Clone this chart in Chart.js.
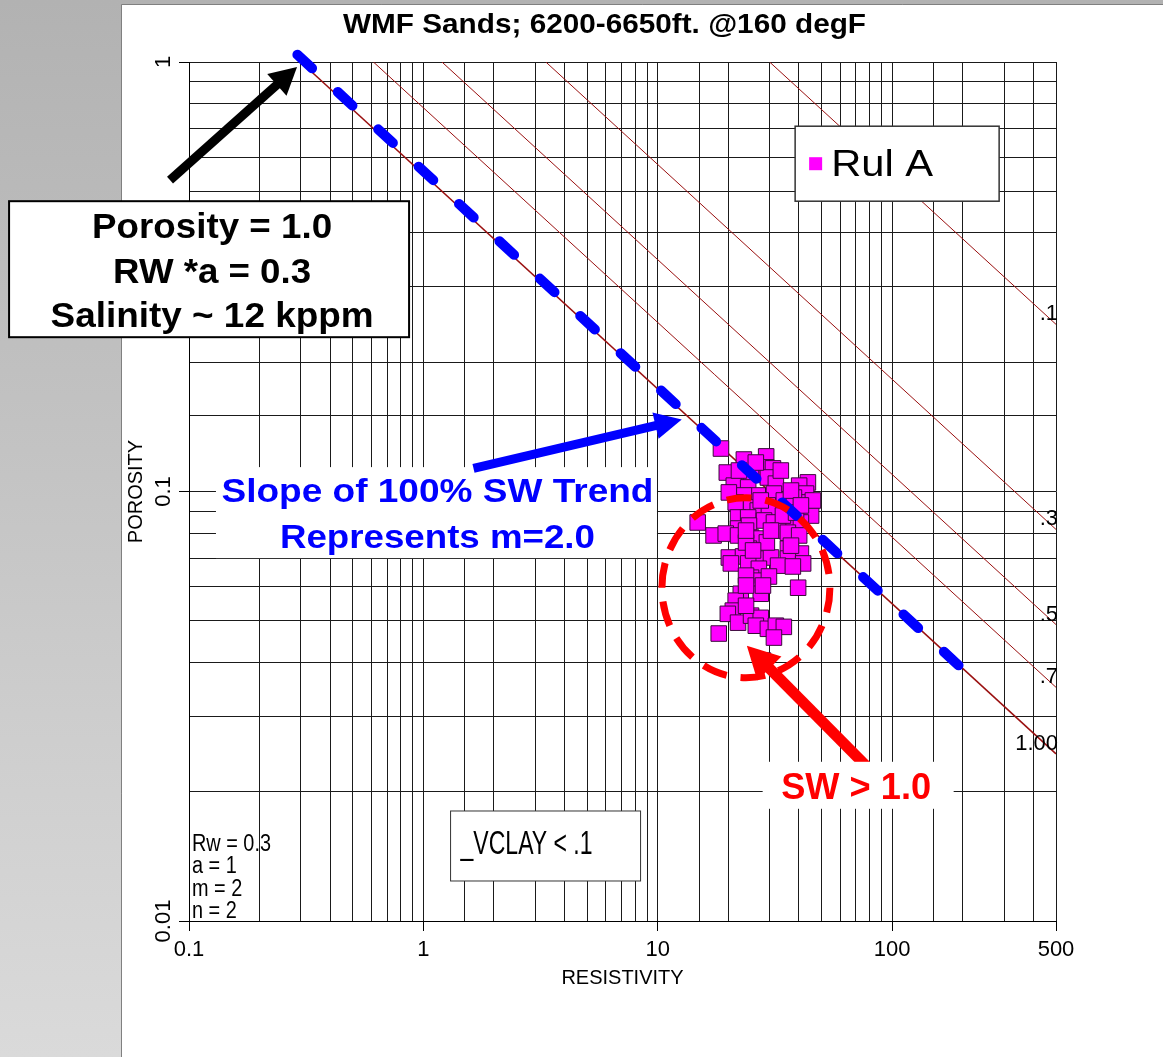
<!DOCTYPE html>
<html>
<head>
<meta charset="utf-8">
<script src="https://cdn.jsdelivr.net/npm/chart.js@4.4.0/dist/chart.umd.min.js"></script>
<style>
html,body{margin:0;padding:0;background:#fff;overflow:hidden}
canvas{display:block}
</style>
</head>
<body>
<canvas id="c" width="1163" height="1057"></canvas>
<script>
// ---------- chart text ----------
const chartTitle = 'WMF Sands; 6200-6650ft. @160 degF';
const xAxisTitle = 'RESISTIVITY';
const yAxisTitle = 'POROSITY';
const seriesName = 'Rul A';

// ---------- axis ticks ----------
const xMin = 0.1, xMax = 500;
const yMin = 0.01, yMax = 1;
const xTickValues = [0.1, 1, 10, 100, 500];
const xTickLabels = ['0.1', '1', '10', '100', '500'];
const yTickValues = [0.01, 0.1, 1];
const yTickLabels = ['0.01', '0.1', '1'];

// ---------- scatter data ----------
const resistivity = [
  18.6, 23.3, 29.0, 29.0, 31.0, 19.7, 23.3, 25.0, 29.5, 31.9,
  43.7, 40.1, 21.1, 24.3, 31.3, 42.9, 26.7, 23.3, 21.5, 41.7,
  25.0, 29.5, 36.3, 26.7, 29.8, 45.1, 14.8, 22.0, 24.3, 28.4,
  31.3, 36.3, 40.8, 22.0, 24.5, 17.3, 19.5, 22.0, 25.0, 26.7,
  32.6, 35.9, 40.1, 24.5, 35.9, 40.8, 20.1, 23.1, 26.7, 30.4,
  35.9, 20.5, 24.3, 27.0, 32.6, 41.7, 25.0, 26.2, 39.7, 22.6,
  27.5, 21.5, 20.9, 19.9, 22.0, 25.0, 27.5, 26.2, 29.5, 31.9,
  34.5, 31.3, 18.2, 28.1, 27.5, 34.5, 38.1, 34.2, 38.9, 23.8,
  29.2, 25.5, 37.7, 29.8, 23.8, 23.8, 26.2, 33.5, 37.0, 45.9,
  23.8, 30.4, 37.0, 28.1, 23.8, 40.8, 22.2, 20.1
];
const porosity = [
  0.1259, 0.1187, 0.1207, 0.1138, 0.1132, 0.1107, 0.1078, 0.1101, 0.1078, 0.1043,
  0.1050, 0.1032, 0.1032, 0.1022, 0.0989, 0.0989, 0.0979, 0.0979, 0.0943, 0.0943,
  0.0918, 0.0928, 0.0913, 0.0903, 0.0903, 0.0879, 0.0847, 0.0870, 0.0870, 0.0856,
  0.0847, 0.0856, 0.0847, 0.0820, 0.0833, 0.0790, 0.0798, 0.0790, 0.0781, 0.0777,
  0.0811, 0.0802, 0.0790, 0.0736, 0.0736, 0.0717, 0.0702, 0.0706, 0.0698, 0.0702,
  0.0698, 0.0680, 0.0680, 0.0661, 0.0672, 0.0680, 0.0630, 0.0620, 0.0597, 0.0578,
  0.0578, 0.0557, 0.0528, 0.0519, 0.0495, 0.0514, 0.0508, 0.0487, 0.0479, 0.0487,
  0.0484, 0.0457, 0.0467, 0.0404, 0.0953, 0.0953, 0.0968, 0.0879, 0.0893, 0.0761,
  0.0761, 0.0729, 0.0669, 0.0634, 0.0542, 0.0637, 0.1168, 0.1119, 0.1005, 0.0953,
  0.0811, 0.0811, 0.0748, 0.0604, 0.0604, 0.0928, 0.1119, 0.0995
];

// ---------- water saturation lines (start at porosity 1, end at resistivity 500) ----------
const swLabels = ['.1', '.3', '.5', '.7', '1.00'];
const swStartResistivity = [30, 3.33, 1.2, 0.612, 0.3];
const swEndPorosity = [0.245, 0.0816, 0.049, 0.035, 0.0245];

// ---------- 100% SW trend (blue dashed) ----------
const trendResistivity = [0.29, 215];
const trendPorosity = [1.04, 0.0372];

// ---------- annotation text ----------
const paramLines = ['Rw = 0.3', 'a = 1', 'm = 2', 'n = 2'];
const filterText = '_VCLAY < .1';
const noteLines = ['Porosity = 1.0', 'RW *a = 0.3', 'Salinity ~ 12 kppm'];
const slopeLines = ['Slope of 100% SW Trend', 'Represents m=2.0'];
const swNote = 'SW > 1.0';

// ---------- styles / layout ----------
const SANS = "'Liberation Sans', Arial, Helvetica, sans-serif";
const SW_COLOR = '#9a1010';
const MAGENTA = '#ff00ff';

// annotation anchors expressed in data coordinates [resistivity, porosity]
const ann = {
  blackArrow: { from: [0.083, 0.531], to: [0.289, 0.974] },
  noteBox: { at: [0.1218, 0.3293], w: 400, h: 136 },
  blueArrow: { from: [1.636, 0.1132], to: [12.66, 0.1472] },
  slopeBox: { at: [1.137, 0.0893], w: 441, h: 91 },
  ellipse: { at: [23.77, 0.0597], rx: 84, ry: 90 },
  redArrow: { from: [79.7, 0.0226], to: [23.99, 0.04375] },
  swBox: { at: [71.6, 0.0207], w: 191, h: 47 },
  vclayBox: { at: [3.321, 0.01495], w: 190, h: 70 },
  params: { at: [0.103, 0.01456] },
  legend: { at: [105.0, 0.5797], w: 204, h: 75 }
};

function near(v, arr) {
  for (let i = 0; i < arr.length; i++) if (Math.abs(v - arr[i]) / arr[i] < 1e-6) return i;
  return -1;
}

function fitText(ctx, text, x, y, font, color, width, align) {
  ctx.save();
  ctx.font = font;
  ctx.fillStyle = color;
  ctx.textBaseline = 'alphabetic';
  ctx.textAlign = align || 'center';
  const w = ctx.measureText(text).width;
  const sx = width ? width / w : 1;
  ctx.translate(x, y);
  ctx.scale(sx, 1);
  ctx.fillText(text, 0, 0);
  ctx.restore();
}

function arrow(ctx, a, b, color, lw, headLen, headW) {
  const [x1, y1] = a, [x2, y2] = b;
  const ang = Math.atan2(y2 - y1, x2 - x1);
  const bx = x2 - headLen * Math.cos(ang), by = y2 - headLen * Math.sin(ang);
  ctx.save();
  ctx.strokeStyle = color; ctx.fillStyle = color; ctx.lineWidth = lw; ctx.lineCap = 'butt';
  ctx.beginPath(); ctx.moveTo(x1, y1); ctx.lineTo(bx + Math.cos(ang), by + Math.sin(ang)); ctx.stroke();
  ctx.beginPath();
  ctx.moveTo(x2, y2);
  ctx.lineTo(bx + headW / 2 * Math.sin(ang), by - headW / 2 * Math.cos(ang));
  ctx.lineTo(bx - headW / 2 * Math.sin(ang), by + headW / 2 * Math.cos(ang));
  ctx.closePath(); ctx.fill();
  ctx.restore();
}

function box(ctx, cx, cy, w, h, border, lw) {
  ctx.save();
  ctx.fillStyle = '#fff';
  ctx.fillRect(cx - w / 2, cy - h / 2, w, h);
  if (border) {
    ctx.strokeStyle = border; ctx.lineWidth = lw;
    ctx.strokeRect(cx - w / 2, cy - h / 2, w, h);
  }
  ctx.restore();
}

const backgroundPlugin = {
  id: 'bg',
  beforeDraw(chart) {
    const ctx = chart.ctx, W = chart.width, H = chart.height;
    ctx.save();
    const g = ctx.createLinearGradient(0, 0, 0, H);
    g.addColorStop(0, '#b2b2b2');
    g.addColorStop(1, '#dadada');
    ctx.fillStyle = g;
    ctx.fillRect(0, 0, W, H);
    ctx.fillStyle = '#fff';
    ctx.fillRect(122, 5, W - 122, H - 5);
    ctx.strokeStyle = '#808080'; ctx.lineWidth = 1;
    ctx.beginPath(); ctx.moveTo(121.5, H); ctx.lineTo(121.5, 4.5); ctx.lineTo(W, 4.5); ctx.stroke();
    ctx.restore();
  }
};

const annotationPlugin = {
  id: 'annotations',
  afterDraw(chart) {
    const ctx = chart.ctx;
    const xs = chart.scales.x, ys = chart.scales.y;
    const P = (d) => [xs.getPixelForValue(d[0]), ys.getPixelForValue(d[1])];
    const area = chart.chartArea;

    // title
    fitText(ctx, chartTitle, (area.left + area.right) / 2 - 18, 33, `bold 28px ${SANS}`, '#000', 523);

    // SW line labels at right edge
    swLabels.forEach((t, i) => {
      const y = ys.getPixelForValue(swEndPorosity[i]) - 4;
      fitText(ctx, t, area.right + 2, y, `22px ${SANS}`, '#000', null, 'right');
    });

    // parameters block
    const [px0, py0] = P(ann.params.at);
    ctx.save(); ctx.font = `23px ${SANS}`;
    const pScale = 79 / ctx.measureText(paramLines[0]).width;
    ctx.restore();
    paramLines.forEach((t, i) => {
      ctx.save(); ctx.font = `23px ${SANS}`;
      const w = ctx.measureText(t).width * pScale;
      ctx.restore();
      fitText(ctx, t, px0, py0 + i * 22.4, `23px ${SANS}`, '#000', w, 'left');
    });

    // VCLAY box
    const [vx, vy] = P(ann.vclayBox.at);
    box(ctx, vx, vy, ann.vclayBox.w, ann.vclayBox.h, '#333', 1);
    fitText(ctx, filterText, vx - ann.vclayBox.w / 2 + 10, vy + 8, `34px ${SANS}`, '#000', 132, 'left');

    // legend
    const [lx, ly] = P(ann.legend.at);
    const lw = ann.legend.w, lh = ann.legend.h;
    box(ctx, lx, ly, lw, lh, '#333', 1.5);
    const ds = chart.data.datasets[0];
    ctx.save(); ctx.fillStyle = ds.backgroundColor;
    ctx.fillRect(lx - lw / 2 + 14, ly - lh / 2 + 31, 13, 13);
    ctx.restore();
    fitText(ctx, ds.label, lx - lw / 2 + 36, ly - lh / 2 + 50, `37px ${SANS}`, '#000', 102, 'left');

    // black arrow + note box
    arrow(ctx, P(ann.blackArrow.from), P(ann.blackArrow.to), '#000', 9, 27, 29);
    const [nx, ny] = P(ann.noteBox.at);
    box(ctx, nx, ny, ann.noteBox.w, ann.noteBox.h, '#000', 2);
    const noteW = [240, 198, 323], noteDy = [-31, 14, 58];
    noteLines.forEach((t, i) => fitText(ctx, t, nx + 3, ny + noteDy[i], `bold 35px ${SANS}`, '#000', noteW[i]));

    // blue slope note
    const [sx, sy] = P(ann.slopeBox.at);
    box(ctx, sx, sy, ann.slopeBox.w, ann.slopeBox.h, null, 0);
    arrow(ctx, P(ann.blueArrow.from), P(ann.blueArrow.to), '#0000ff', 9, 27, 27);
    const slopeW = [432, 315], slopeDy = [-10.5, 35.5];
    slopeLines.forEach((t, i) => fitText(ctx, t, sx + 1, sy + slopeDy[i], `bold 34px ${SANS}`, '#0000ff', slopeW[i]));

    // red dashed ellipse
    const [ex, ey] = P(ann.ellipse.at);
    ctx.save();
    ctx.strokeStyle = '#ff0000'; ctx.lineWidth = 7; ctx.setLineDash([25, 14]);
    ctx.beginPath(); ctx.ellipse(ex, ey, ann.ellipse.rx, ann.ellipse.ry, 0, 0, Math.PI * 2); ctx.stroke();
    ctx.restore();

    // red arrow + SW note
    arrow(ctx, P(ann.redArrow.from), P(ann.redArrow.to), '#ff0000', 11, 32, 34);
    const [wx, wy] = P(ann.swBox.at);
    box(ctx, wx, wy, ann.swBox.w, ann.swBox.h, null, 0);
    fitText(ctx, swNote, wx - 2, wy + 13.5, `bold 36px ${SANS}`, '#ff0000', 150);
  }
};

const scatterPoints = resistivity.map((r, i) => ({ x: r, y: porosity[i] }));
const trendPoints = trendResistivity.map((r, i) => ({ x: r, y: trendPorosity[i] }));
const swDatasets = swLabels.map((lab, i) => ({
  type: 'line',
  label: 'Sw ' + lab,
  data: [{ x: swStartResistivity[i], y: yMax }, { x: xMax, y: swEndPorosity[i] }],
  borderColor: SW_COLOR,
  borderWidth: i === swLabels.length - 1 ? 1.5 : 1,
  pointRadius: 0,
  fill: false,
  order: 2
}));

new Chart(document.getElementById('c').getContext('2d'), {
  type: 'scatter',
  data: {
    datasets: [
      {
        label: seriesName,
        data: scatterPoints,
        pointStyle: 'rect',
        pointRadius: 11,
        backgroundColor: MAGENTA,
        borderColor: '#3a0a3a',
        borderWidth: 1,
        order: 1
      },
      {
        type: 'line',
        label: '100% SW trend',
        data: trendPoints,
        borderColor: '#0000ff',
        borderWidth: 10,
        borderDash: [20, 35],
        borderCapStyle: 'round',
        pointRadius: 0,
        fill: false,
        clip: false,
        order: 0
      },
      ...swDatasets
    ]
  },
  options: {
    responsive: false,
    animation: false,
    devicePixelRatio: 1,
    layout: { padding: { left: 122, top: 62, right: 107, bottom: 0 } },
    plugins: { legend: { display: false }, title: { display: false }, tooltip: { enabled: false } },
    scales: {
      x: {
        type: 'logarithmic',
        min: xMin, max: xMax,
        position: 'bottom',
        afterFit: (s) => { s.height = 136; },
        grid: {
          color: '#1a1a1a', lineWidth: 1, drawTicks: true, tickLength: 10,
          tickColor: (c) => (c.tick && near(c.tick.value, xTickValues) >= 0 ? '#000' : 'rgba(0,0,0,0)')
        },
        border: { color: '#000', width: 1 },
        ticks: {
          autoSkip: false, minRotation: 0, maxRotation: 0, padding: 6, color: '#000',
          font: { family: SANS, size: 22 },
          callback: (v) => { const i = near(v, xTickValues); return i >= 0 ? xTickLabels[i] : ''; }
        },
        title: { display: true, text: xAxisTitle, color: '#000', font: { family: SANS, size: 20 }, padding: { top: 0, bottom: 67 } }
      },
      y: {
        type: 'logarithmic',
        min: yMin, max: yMax,
        position: 'left',
        afterFit: (s) => { s.width = 67; },
        grid: {
          color: '#1a1a1a', lineWidth: 1, drawTicks: true, tickLength: 10,
          tickColor: (c) => (c.tick && near(c.tick.value, yTickValues) >= 0 ? '#000' : 'rgba(0,0,0,0)')
        },
        border: { color: '#000', width: 1 },
        ticks: {
          autoSkip: false, minRotation: 90, maxRotation: 90, crossAlign: 'center', padding: -6, color: '#000',
          font: { family: SANS, size: 22 },
          callback: (v) => { const i = near(v, yTickValues); return i >= 0 ? yTickLabels[i] : ''; }
        },
        title: { display: true, text: yAxisTitle, color: '#000', font: { family: SANS, size: 20 }, padding: { top: 2, bottom: 0 } }
      }
    }
  },
  plugins: [backgroundPlugin, annotationPlugin]
});
</script>
</body>
</html>
